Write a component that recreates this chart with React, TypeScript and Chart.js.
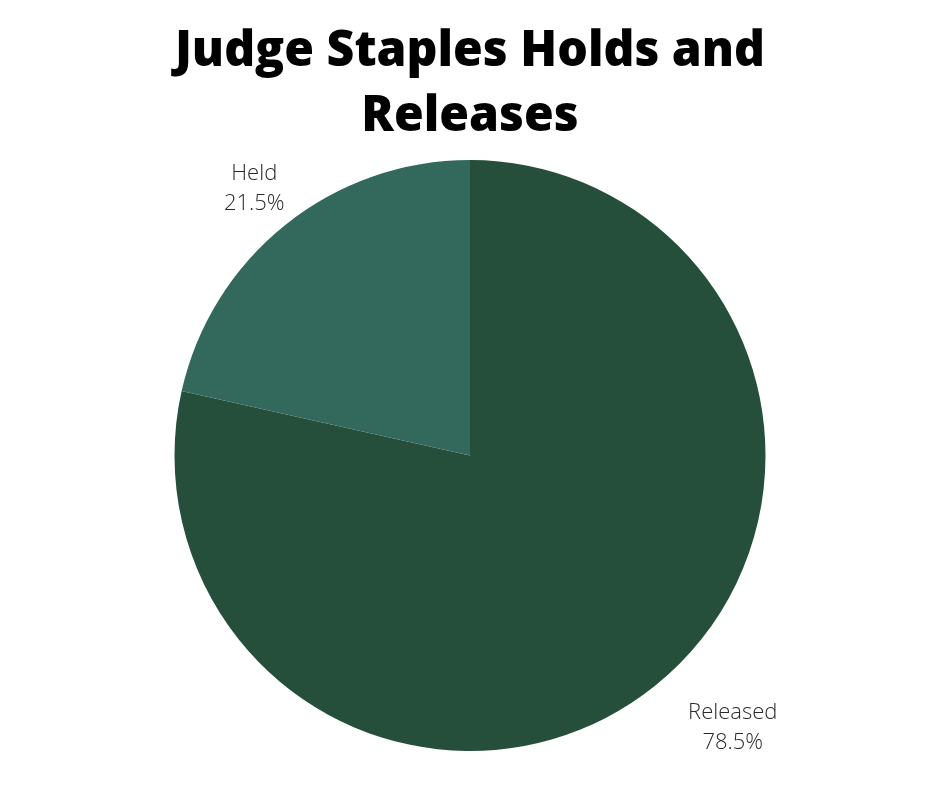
import React, { useEffect, useRef } from "react";
import { Chart, registerables } from "chart.js";

Chart.register(...registerables);

const titleLines = ["Judge Staples Holds and", "Releases"];
const categories = ["Released", "Held"];
const values = [78.5, 21.5];
const colors = ["#264f3b", "#33695c"];
// label offsets (px) relative to the outer edge point at each slice's mid-angle
const labelOffsets = [
  [78, 42],
  [-31, -36],
];

const overlayPlugin = {
  id: "overlay",
  afterDraw(chart: any) {
    const ctx = chart.ctx;
    ctx.save();
    // Title
    ctx.fillStyle = "#000000";
    ctx.textAlign = "center";
    ctx.textBaseline = "alphabetic";
    ctx.font = "800 49px 'Open Sans'";
    const cx = chart.width / 2;
    titleLines.forEach((line, i) => {
      ctx.save();
      ctx.translate(cx, 66 + i * 65);
      ctx.scale(0.983, 1.02);
      ctx.fillText(line, 0, 0);
      ctx.restore();
    });
    // Slice labels
    const meta = chart.getDatasetMeta(0);
    ctx.font = "300 22px 'Open Sans'";
    ctx.fillStyle = "#2a2a2a";
    ctx.textBaseline = "middle";
    meta.data.forEach((arc: any, i: number) => {
      const p = arc.getProps(["x", "y", "startAngle", "endAngle", "outerRadius"], true);
      const mid = (p.startAngle + p.endAngle) / 2;
      const ex = p.x + Math.cos(mid) * p.outerRadius + labelOffsets[i][0];
      const ey = p.y + Math.sin(mid) * p.outerRadius + labelOffsets[i][1];
      ctx.fillText(categories[i], ex, ey - 15);
      ctx.fillText(values[i].toFixed(1) + "%", ex, ey + 15);
    });
    ctx.restore();
  },
};

export default function App() {
  const ref = useRef<HTMLCanvasElement>(null);
  useEffect(() => {
    document.body.style.margin = "0";
    document.body.style.background = "#ffffff";
    const chart = new Chart(ref.current!, {
      type: "pie",
      data: {
        labels: categories,
        datasets: [
          {
            data: values,
            backgroundColor: colors,
            borderWidth: 0,
          },
        ],
      },
      options: {
        animation: false,
        responsive: false,
        layout: { padding: { top: 160, bottom: 37, left: 0, right: 0 } },
        plugins: {
          legend: { display: false },
          title: { display: false },
          tooltip: { enabled: false },
        },
      },
      plugins: [overlayPlugin],
    });
    return () => chart.destroy();
  }, []);
  return (
    <div style={{ width: 940, height: 788, background: "#fff" }}>
      <canvas ref={ref} width={940} height={788} />
    </div>
  );
}
